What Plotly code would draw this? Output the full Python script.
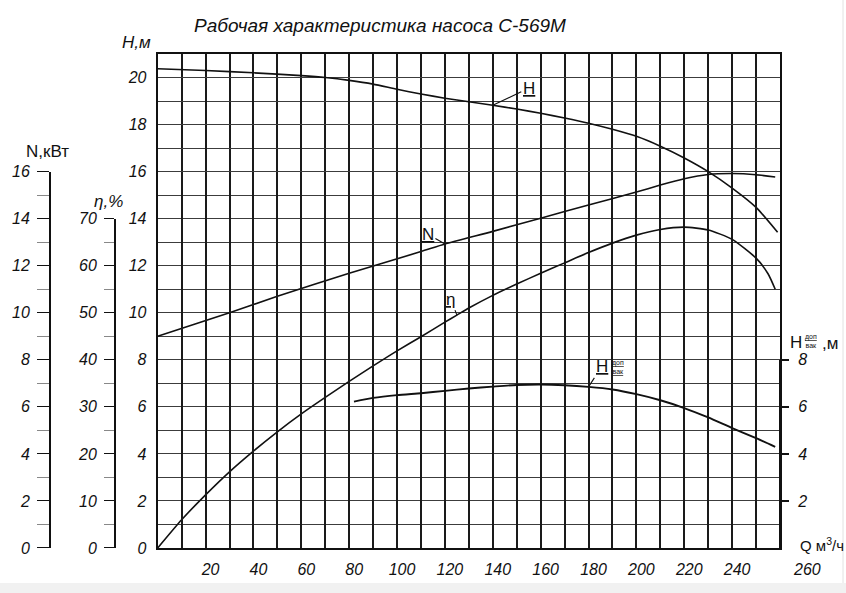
import plotly.graph_objects as go

# Head curve H(Q), m
Q_H = [0, 20, 40, 60, 70, 80, 90, 100, 110, 120, 130, 140, 150, 160, 170,
       180, 190, 200, 210, 220, 230, 240, 250, 259]
H_HEAD = [20.37, 20.3, 20.2, 20.08, 20.0, 19.88, 19.72, 19.5, 19.3, 19.12,
          18.97, 18.82, 18.66, 18.48, 18.28, 18.06, 17.8, 17.5, 17.08, 16.58,
          16.0, 15.3, 14.48, 13.42]

# Shaft power N(Q), kW
Q_N = [0, 30, 50, 80, 110, 120, 140, 160, 180, 200, 210, 220, 230, 240, 250, 258]
N_POWER = [9.0, 10.0, 10.7, 11.68, 12.6, 12.92, 13.46, 14.02, 14.58, 15.13,
           15.43, 15.7, 15.88, 15.92, 15.87, 15.77]

# Efficiency eta(Q), %
Q_ETA = [0, 10, 20, 30, 40, 50, 60, 70, 80, 90, 100, 110, 120, 125, 130, 140,
         150, 160, 170, 180, 190, 200, 210, 220, 230, 240, 250, 255, 258]
ETA = [0, 6.0, 11.3, 16.2, 20.6, 24.7, 28.5, 32.0, 35.4, 38.7, 41.9, 44.9,
       48.0, 49.5, 51.0, 53.7, 56.1, 58.4, 60.6, 62.8, 64.8, 66.5, 67.7, 68.2,
       67.6, 65.6, 61.6, 58.3, 55.0]

# Permissible suction lift H_vac(Q), m
Q_VAC = [82, 90, 100, 110, 120, 130, 140, 150, 160, 170, 180, 190, 200, 210,
         220, 230, 240, 250, 258]
H_VAC = [6.22, 6.38, 6.5, 6.58, 6.68, 6.78, 6.86, 6.93, 6.95, 6.92, 6.85, 6.74,
         6.54, 6.28, 5.95, 5.55, 5.1, 4.67, 4.3]

Q_TICKS = [20, 40, 60, 80, 100, 120, 140, 160, 180, 200, 220, 240]
Q_LAST = 260
H_TICKS = list(range(0, 21, 2))
N_TICKS = list(range(0, 17, 2))
ETA_TICKS = list(range(0, 71, 10))
VAC_TICKS = [2, 4, 6, 8]

H_MAX = 21
N_MAX = 16
ETA_MAX = 70
VAC_MAX = 8

W, HT = 846, 593
ML, MR, MT, MB = 30, 20, 54, 45
PW = W - ML - MR
PH = HT - MT - MB


def px(x):
    return (x - ML) / PW


def py(y):
    return (HT - MB - y) / PH


INK = "#111111"
TICK_FONT = dict(family="Liberation Sans", size=16, color=INK, style="italic")

fig = go.Figure()

line_style = dict(color=INK, width=1.6, shape="spline", smoothing=0.6)

fig.add_trace(go.Scatter(x=Q_H, y=H_HEAD, mode="lines", line=line_style,
                         xaxis="x", yaxis="y", name="H", hoverinfo="x+y"))
fig.add_trace(go.Scatter(x=Q_N, y=N_POWER, mode="lines", line=line_style,
                         xaxis="x", yaxis="y2", name="N", hoverinfo="x+y"))
fig.add_trace(go.Scatter(x=Q_ETA, y=ETA, mode="lines", line=line_style,
                         xaxis="x", yaxis="y3", name="η", hoverinfo="x+y"))
fig.add_trace(go.Scatter(x=Q_VAC, y=H_VAC, mode="lines",
                         line=dict(color=INK, width=1.9, shape="spline", smoothing=0.6),
                         xaxis="x", yaxis="y4", name="Hvac", hoverinfo="x+y"))

V_GRID = "#1a1a1a"
H_GRID = "#3c3c3c"

x_domain = [px(157.7), px(780)]

fig.update_layout(
    width=W, height=HT,
    margin=dict(l=ML, r=MR, t=MT, b=MB),
    paper_bgcolor="white",
    plot_bgcolor="rgba(0,0,0,0)",
    showlegend=False,
    xaxis=dict(
        domain=x_domain, range=[0, Q_LAST], anchor="y",
        tickvals=Q_TICKS, ticktext=[str(v) for v in Q_TICKS],
        ticks="", tickfont=TICK_FONT, ticklabelstandoff=6, ticklabelshift=5,
        showgrid=True, gridcolor=V_GRID, gridwidth=1.7,
        minor=dict(dtick=10, tick0=0, showgrid=True, gridcolor=V_GRID, gridwidth=1.7),
        showline=True, linecolor=INK, linewidth=2, mirror=True,
        zeroline=False, fixedrange=True,
    ),
    yaxis=dict(
        domain=[0, 1], range=[0, H_MAX],
        tickvals=H_TICKS, ticks="", tickfont=TICK_FONT, ticklabelstandoff=6,
        showgrid=True, gridcolor=H_GRID, gridwidth=1.4,
        minor=dict(dtick=1, tick0=0, showgrid=True, gridcolor=H_GRID, gridwidth=1.4),
        showline=True, linecolor=INK, linewidth=2, mirror=True,
        zeroline=False, fixedrange=True,
    ),
    yaxis2=dict(
        domain=[0, N_MAX / H_MAX], range=[0, N_MAX],
        anchor="free", position=px(50), side="left",
        tickvals=N_TICKS, ticks="outside", ticklen=12, tickwidth=1.4, tickcolor=INK,
        tickfont=TICK_FONT, ticklabelstandoff=4,
        minor=dict(dtick=1, tick0=0, ticks="outside", ticklen=12, tickwidth=1,
                   tickcolor="#888888"),
        showgrid=False, showline=True, linecolor=INK, linewidth=2,
        zeroline=False, fixedrange=True,
    ),
    yaxis3=dict(
        domain=[0, ETA_MAX / 5 / H_MAX], range=[0, ETA_MAX],
        anchor="free", position=px(115), side="left",
        tickvals=ETA_TICKS, ticks="outside", ticklen=10, tickwidth=1.4, tickcolor=INK,
        tickfont=TICK_FONT, ticklabelstandoff=4,
        minor=dict(dtick=5, tick0=0, ticks="outside", ticklen=10, tickwidth=1,
                   tickcolor="#888888"),
        showgrid=False, showline=True, linecolor=INK, linewidth=2,
        zeroline=False, fixedrange=True,
    ),
    yaxis4=dict(
        domain=[0, VAC_MAX / H_MAX], range=[0, VAC_MAX],
        anchor="free", position=px(780), side="right",
        tickvals=VAC_TICKS, ticks="outside", ticklen=8, tickwidth=1.6, tickcolor=INK,
        tickfont=TICK_FONT, ticklabelstandoff=6,
        showgrid=False, showline=True, linecolor=INK, linewidth=2,
        zeroline=False, fixedrange=True,
    ),
)

ann = []


def text_at(x, y, text, size=16, italic=False, xanchor="center", yanchor="middle",
            family="Liberation Sans"):
    ann.append(dict(
        xref="paper", yref="paper", x=px(x), y=py(y), text=text, showarrow=False,
        xanchor=xanchor, yanchor=yanchor,
        font=dict(family=family, size=size, color=INK,
                  style="italic" if italic else "normal"),
    ))


# Title and axis captions
text_at(380, 25, "Рабочая характеристика насоса С-569М", size=19, italic=True)
text_at(136, 42, "H,м", size=17, italic=True)
text_at(47, 151, "N,кВт", size=17)
text_at(108, 201, "η,%", size=17, italic=True)
text_at(822, 544, "Q м<sup>3</sup>/ч", size=15)
text_at(796, 342, "H", size=17)
text_at(811, 341, "<u>доп</u><br>вак", size=7)
text_at(830, 343, ",м", size=17)

# Last flow value sits past the frame, under the flow caption
ann.append(dict(xref="x", yref="paper", x=Q_LAST, y=py(569), text=str(Q_LAST),
                showarrow=False, xshift=27, yanchor="middle", xanchor="center",
                font=TICK_FONT))


def curve_label(qs, vals, q, yref, text, ax, ay, size=17):
    i = qs.index(q)
    ann.append(dict(
        xref="x", yref=yref, x=qs[i], y=vals[i], text=text, showarrow=True,
        arrowhead=0, arrowwidth=1.1, arrowcolor=INK, ax=ax, ay=ay,
        font=dict(family="Liberation Sans", size=size, color=INK),
    ))
    return i


curve_label(Q_H, H_HEAD, 140, "y", "<u>H</u>", 36, -17)
curve_label(Q_N, N_POWER, 120, "y2", "<u>N</u>", -17, -10)
curve_label(Q_ETA, ETA, 125, "y3", "<u>η</u>", -6, -16)
iv = curve_label(Q_VAC, H_VAC, 180, "y4", "<u>H</u>", 13, -20)
ann.append(dict(
    xref="x", yref="y4", x=Q_VAC[iv], y=H_VAC[iv], text="<u>доп</u><br><u>вак</u>",
    showarrow=False, xshift=29, yshift=20,
    font=dict(family="Liberation Sans", size=7, color=INK),
))

fig.update_layout(annotations=ann)

# Scan border: light strip along the bottom and a faint right edge
fig.add_shape(type="rect", xref="paper", yref="paper",
              x0=px(0), x1=px(W), y0=py(HT), y1=py(583),
              fillcolor="#f1f1f1", line=dict(width=0), layer="below")
fig.add_shape(type="line", xref="paper", yref="paper",
              x0=px(843), x1=px(843), y0=py(583), y1=py(0),
              line=dict(color="#e2e2e2", width=1), layer="below")

fig.write_html("out.html")
